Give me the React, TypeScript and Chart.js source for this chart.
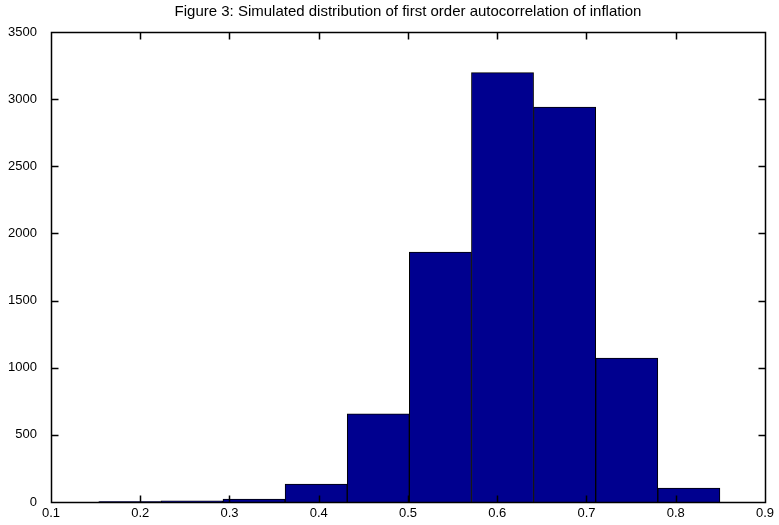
import React, { useEffect, useRef } from "react";
import { Chart, registerables } from "chart.js";

Chart.register(...registerables);

// Histogram bins (centres) and counts of simulated first-order autocorrelation
const binCenters = [0.1883, 0.2579, 0.3275, 0.3971, 0.4667, 0.5363, 0.6059, 0.6755, 0.7451, 0.8147];
const binCounts = [4, 8, 22, 134, 657, 1862, 3197, 2941, 1072, 103];
const xTickValues = [0.1, 0.2, 0.3, 0.4, 0.5, 0.6, 0.7, 0.8, 0.9];
const yTickValues = [0, 500, 1000, 1500, 2000, 2500, 3000, 3500];

const FONT = '"Liberation Sans", Arial, Helvetica, sans-serif';
const TICK_LEN = 7;

// Box around the axes with inward ticks on all four sides
const boxAxesPlugin = {
  id: "boxAxes",
  afterDatasetsDraw(chart: any) {
    const { ctx, chartArea } = chart;
    const { left, right, top, bottom } = chartArea;
    const xs = chart.scales.x;
    const ys = chart.scales.y;
    ctx.save();
    ctx.strokeStyle = "#000";
    ctx.lineWidth = 1.5;
    const L = Math.round(left) + 0.5;
    const R = Math.round(right) + 0.5;
    const T = Math.round(top) + 0.5;
    const B = Math.round(bottom) + 0.5;
    ctx.beginPath();
    ctx.rect(L, T, R - L, B - T);
    for (const v of xTickValues) {
      const px = Math.round(xs.getPixelForValue(v)) + 0.5;
      ctx.moveTo(px, B);
      ctx.lineTo(px, B - TICK_LEN);
      ctx.moveTo(px, T);
      ctx.lineTo(px, T + TICK_LEN);
    }
    for (const v of yTickValues) {
      const py = Math.round(ys.getPixelForValue(v)) + 0.5;
      ctx.moveTo(L, py);
      ctx.lineTo(L + TICK_LEN, py);
      ctx.moveTo(R, py);
      ctx.lineTo(R - TICK_LEN, py);
    }
    ctx.stroke();
    ctx.restore();
  },
};

export default function App() {
  const canvasRef = useRef<HTMLCanvasElement | null>(null);

  useEffect(() => {
    if (!canvasRef.current) return;
    const chart = new Chart(canvasRef.current, {
      type: "bar",
      data: {
        datasets: [
          {
            data: binCenters.map((x, i) => ({ x, y: binCounts[i] })),
            backgroundColor: "rgb(0,0,143)",
            borderColor: "#000",
            borderWidth: 1,
            barPercentage: 1,
            categoryPercentage: 1,
          },
        ],
      },
      options: {
        responsive: false,
        animation: false,
        devicePixelRatio: 1,
        layout: { padding: { left: 0, right: 14, top: 0, bottom: 0 } },
        plugins: {
          legend: { display: false },
          tooltip: { enabled: false },
          title: {
            display: true,
            fullSize: false,
            text: "Figure 3: Simulated distribution of first order autocorrelation of inflation",
            color: "#000",
            font: { family: FONT, size: 15, weight: "normal" },
            padding: { top: 3, bottom: 11 },
          },
        },
        scales: {
          x: {
            type: "linear",
            offset: false,
            min: 0.1,
            max: 0.9,
            afterBuildTicks: (s: any) => {
              s.ticks = xTickValues.map((value) => ({ value }));
            },
            afterFit: (s: any) => {
              s.height = 23;
            },
            grid: { display: false, drawTicks: false, offset: false },
            border: { display: false },
            ticks: {
              color: "#000",
              padding: 4,
              font: { family: FONT, size: 13 },
              callback: (v: any) => Number(v).toFixed(1),
            },
          },
          y: {
            type: "linear",
            min: 0,
            max: 3500,
            afterBuildTicks: (s: any) => {
              s.ticks = yTickValues.map((value) => ({ value }));
            },
            afterFit: (s: any) => {
              s.width = 51;
            },
            grid: { display: false, drawTicks: false },
            border: { display: false },
            ticks: {
              color: "#000",
              padding: 14,
              font: { family: FONT, size: 13 },
              callback: (v: any) => String(v),
            },
          },
        },
      },
      plugins: [boxAxesPlugin],
    });
    return () => chart.destroy();
  }, []);

  return (
    <div style={{ position: "absolute", left: 0, top: 0, width: 779, height: 525, background: "#fff" }}>
      <canvas ref={canvasRef} width={779} height={525} style={{ display: "block" }} />
    </div>
  );
}
